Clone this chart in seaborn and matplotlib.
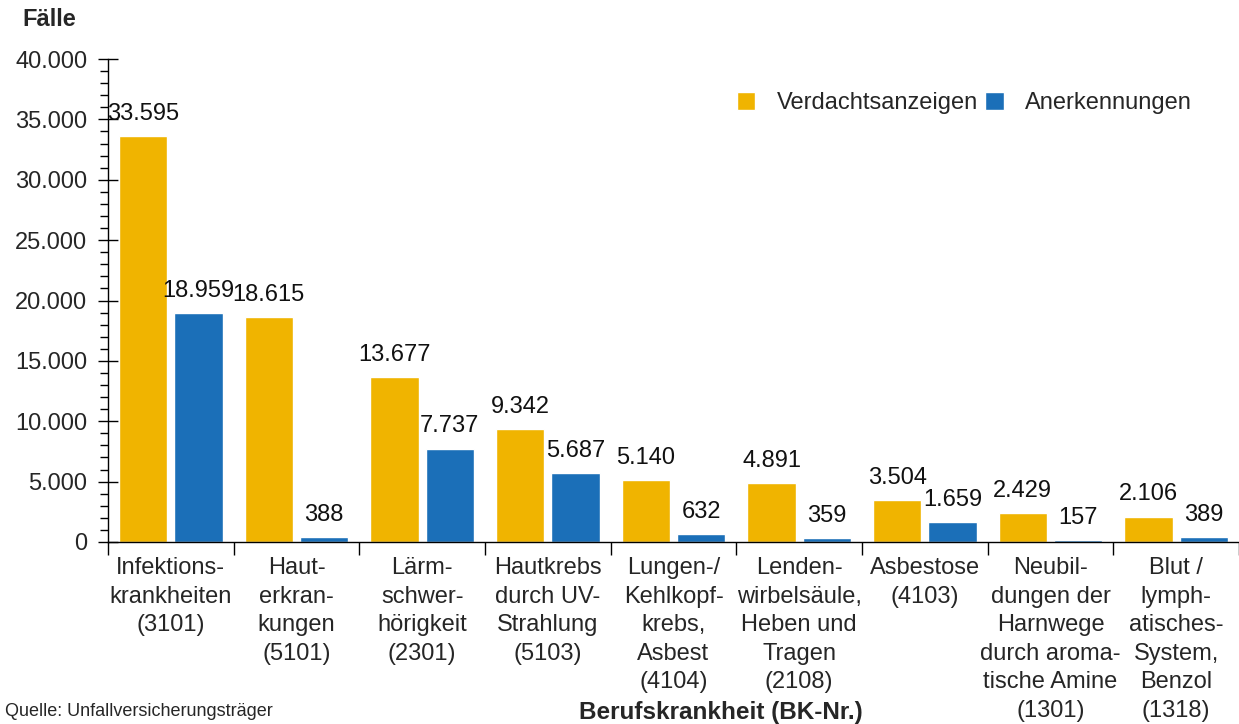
import matplotlib
import matplotlib.pyplot as plt
import pandas as pd
import seaborn as sns


matplotlib.use("Agg")

CATEGORIES = [
    "Infektions-\nkrankheiten\n(3101)",
    "Haut-\nerkran-\nkungen\n(5101)",
    "Lärm-\nschwer-\nhörigkeit\n(2301)",
    "Hautkrebs\ndurch UV-\nStrahlung\n(5103)",
    "Lungen-/\nKehlkopf-\nkrebs,\nAsbest\n(4104)",
    "Lenden-\nwirbelsäule,\nHeben und\nTragen\n(2108)",
    "Asbestose\n(4103)",
    "Neubil-\ndungen der\nHarnwege\ndurch aroma-\ntische Amine\n(1301)",
    "Blut /\nlymph-\natisches-\nSystem,\nBenzol\n(1318)",
]
VERDACHT = [33595, 18615, 13677, 9342, 5140, 4891, 3504, 2429, 2106]
ANERKENNUNG = [18959, 388, 7737, 5687, 632, 359, 1659, 157, 389]
SERIES = ["Verdachtsanzeigen", "Anerkennungen"]
Y_TICKS = [0, 5000, 10000, 15000, 20000, 25000, 30000, 35000, 40000]

COLORS = {"Verdachtsanzeigen": "#F0B400", "Anerkennungen": "#1B6FB8"}
FONT = ["Liberation Sans", "DejaVu Sans"]
FS = 17


def de_number(value: float) -> str:
    return f"{int(round(value)):,}".replace(",", ".")


def main() -> None:
    sns.set_theme(style="white")
    plt.rcParams["font.family"] = FONT
    plt.rcParams["font.size"] = FS

    df = pd.DataFrame(
        {
            "category": CATEGORIES * 2,
            "series": [SERIES[0]] * len(CATEGORIES) + [SERIES[1]] * len(CATEGORIES),
            "value": VERDACHT + ANERKENNUNG,
        }
    )

    fig = plt.figure(figsize=(12.39, 7.24), dpi=100)
    ax = fig.add_axes([108 / 1239, 182 / 724, 1131 / 1239, 483 / 724])

    sns.barplot(
        data=df,
        x="category",
        y="value",
        hue="series",
        hue_order=SERIES,
        palette=COLORS,
        width=0.88,
        gap=0.13,
        saturation=1,
        ax=ax,
    )

    for container in ax.containers:
        ax.bar_label(
            container,
            labels=[de_number(b.get_height()) for b in container],
            padding=8,
            fontsize=FS,
            color="#111111",
        )

    ax.set_xlim(-0.5, len(CATEGORIES) - 0.5)
    ax.set_ylim(0, 40000)
    ax.set_yticks(Y_TICKS)
    ax.set_yticklabels([de_number(v) for v in Y_TICKS], fontsize=FS)
    ax.set_yticks(range(0, 40001, 1000), minor=True)
    ax.tick_params(axis="y", which="major", direction="inout", length=14, width=1,
                   color="black", left=True, pad=8)
    ax.tick_params(axis="y", which="minor", direction="out", length=6, width=1,
                   color="black", left=True)

    ax.set_xticks(range(len(CATEGORIES)))
    ax.set_xticklabels(CATEGORIES, fontsize=FS, linespacing=1.38, va="top")
    ax.set_xticks([i - 0.5 for i in range(len(CATEGORIES) + 1)], minor=True)
    ax.tick_params(axis="x", which="major", length=0, pad=11)
    ax.tick_params(axis="x", which="minor", direction="out", length=9, width=1,
                   color="black", bottom=True)

    ax.set_xlabel("")
    ax.set_ylabel("")
    for side in ["top", "right"]:
        ax.spines[side].set_visible(False)
    for side in ["left", "bottom"]:
        ax.spines[side].set_color("black")
        ax.spines[side].set_linewidth(1)
    ax.grid(False)

    ax.legend(
        title=None,
        loc="center right",
        bbox_to_anchor=((1192 - 108) / 1131, (542 - 103) / 483),
        borderaxespad=0,
        borderpad=0,
        ncol=2,
        frameon=False,
        fontsize=FS,
        handlelength=0.8,
        handleheight=0.8,
        handletextpad=0.9,
        columnspacing=0.3,
    )

    fig.text(22 / 1239, 1 - 20 / 724, "Fälle", fontsize=FS, fontweight="bold",
             va="center", ha="left")
    fig.text(5 / 1239, 1 - 712 / 724, "Quelle: Unfallversicherungsträger",
             fontsize=13, va="center", ha="left")
    fig.text(721 / 1239, 1 - 713 / 724, "Berufskrankheit (BK-Nr.)", fontsize=17.5,
             fontweight="bold", va="center", ha="center")

    fig.savefig("out.png", dpi=100)
    plt.close(fig)


if __name__ == "__main__":
    main()
